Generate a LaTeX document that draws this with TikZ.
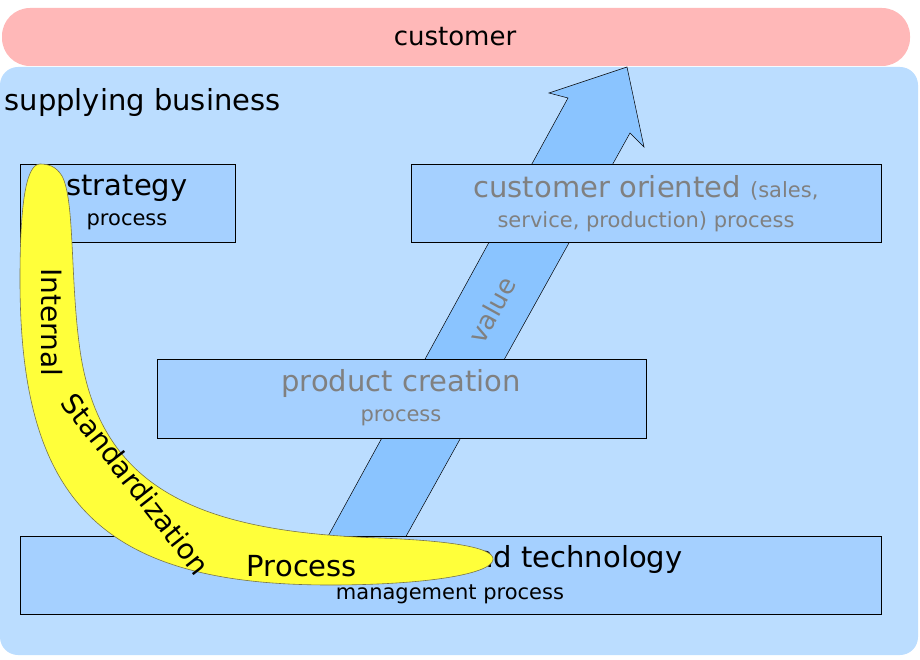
\documentclass[tikz,border=0pt]{standalone}
\usepackage{fontspec}
\setmainfont{DejaVu Sans}
\begin{document}
\begin{tikzpicture}[x=1pt,y=-1pt,
  box/.style={draw=black,line width=0.8pt,fill=boxc},
  fs/.style={font=\fontsize{#1}{#1}\selectfont}]
\definecolor{pinkc}{HTML}{FFB8B8}
\definecolor{bgc}{HTML}{BBDDFF}
\definecolor{boxc}{HTML}{A5D0FF}
\definecolor{arrc}{HTML}{8AC4FF}
\definecolor{grayt}{HTML}{808080}
\definecolor{yel}{HTML}{FFFF3A}
\useasboundingbox (0,0) rectangle (920,660);
\fill[pinkc,rounded corners=28pt] (2,8) rectangle (910,66);
\node[fs=26] (cust) at (455,37) {customer};
\fill[bgc,rounded corners=18pt] (0,67) rectangle (918,655);
\node[fs=29,anchor=west] (sb) at (1,103) {supplying business};
% arrow
\draw[fill=arrc,line width=0.5pt] (326,540) -- (568,98) -- (549,93) -- (627,67) -- (644,147) -- (630,133) -- (404,540) -- cycle;
\node[fs=26,text=grayt,rotate=61] (val) at (492,310) {value};
% boxes
\node[box,minimum width=215,minimum height=78,anchor=north west] (str) at (20,164) {};
\node[fs=29] at (127,188) {strategy};
\node[fs=21] at (127,222) {process};
\node[box,minimum width=470,minimum height=78,anchor=north west] (co) at (411,164) {};
\node[text=grayt,anchor=base] at (646,198) {\fontsize{29}{29}\selectfont customer oriented \fontsize{21}{21}\selectfont(sales,};
\node[fs=21,text=grayt] at (646,222) {service, production) process};
\node[box,minimum width=489,minimum height=79,anchor=north west] (pc) at (157,359) {};
\node[fs=29,text=grayt] at (401,383) {product creation};
\node[fs=21,text=grayt] at (401,418) {process};
\node[box,minimum width=861,minimum height=78,anchor=north west] (pt) at (20,536) {};
\node[fs=29,anchor=east] at (686,559) {people and technology};
\node[fs=21] at (450,594) {management process};
% boomerang
\draw[fill=yel,draw=black!60!yellow,line width=0.6pt] (40,164) .. controls (25,164) and (20,210) .. (20,280) .. controls (20,500) and (100,585) .. (330,585) .. controls (420,585) and (490,575) .. (493,560) .. controls (496,545) and (430,540) .. (380,538) .. controls (200,532) and (100,490) .. (80,350) .. controls (70,280) and (75,200) .. (62,176) .. controls (56,166) and (48,164) .. (40,164);
\node[fs=28,rotate=-90] at (52,322) {Internal};
\node[fs=28,rotate=-52] at (136,484) {Standardization};
\node[fs=29] at (302,566) {Process};
\end{tikzpicture}
\end{document}
